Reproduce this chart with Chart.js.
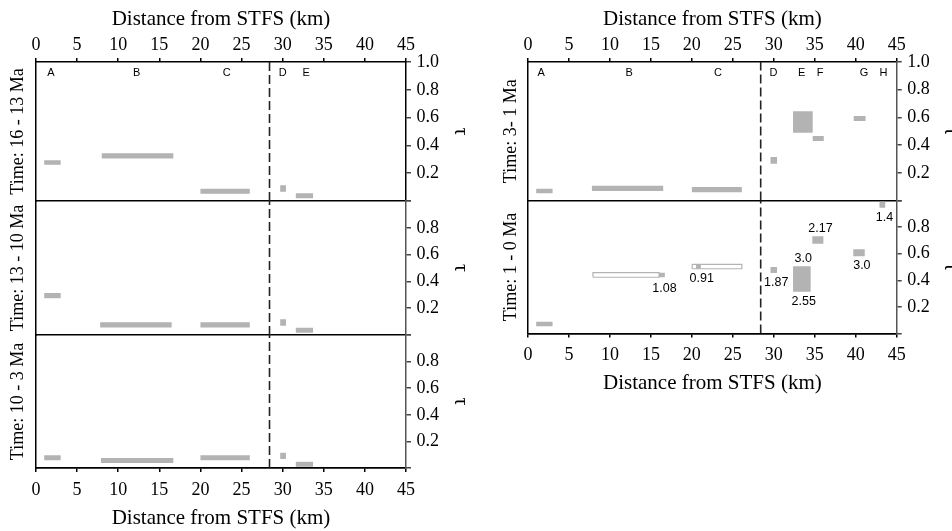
<!DOCTYPE html>
<html>
<head>
<meta charset="utf-8">
<script src="https://cdn.jsdelivr.net/npm/chart.js@4"></script>
<style>
  html, body { margin: 0; padding: 0; background: #fff; width: 952px; height: 531px; overflow: hidden; }
  canvas { position: absolute; top: 0; }
</style>
</head>
<body>
<canvas id="leftCol" width="480" height="531" style="left:0"></canvas>
<canvas id="rightCol" width="490" height="396" style="left:480px"></canvas>
<script>
// bars are [km from, km to, tau low, tau high]
const stfsKm = 28.4;

const bars16to13 = [[1, 3, 0.26, 0.293], [8, 16.7, 0.305, 0.343], [20, 26, 0.053, 0.088], [29.7, 30.4, 0.067, 0.113], [31.6, 33.7, 0.02, 0.055]];
const bars13to10 = [[1, 3, 0.275, 0.313], [7.8, 16.5, 0.056, 0.096], [20, 26, 0.056, 0.096], [29.7, 30.4, 0.069, 0.118], [31.6, 33.7, 0.016, 0.054]];
const bars10to3 = [[1, 3, 0.058, 0.095], [7.9, 16.7, 0.038, 0.075], [20, 26, 0.058, 0.095], [29.7, 30.4, 0.068, 0.115], [31.6, 33.7, 0.01, 0.047]];
const bars3to1 = [[1, 3, 0.052, 0.085], [7.8, 16.5, 0.069, 0.107], [20, 26.1, 0.059, 0.097], [29.6, 30.4, 0.266, 0.314], [32.35, 34.75, 0.49, 0.644], [34.75, 36.1, 0.43, 0.466], [39.75, 41.2, 0.574, 0.61]];
const bars1to0 = [[1, 3, 0.054, 0.089], [16.0, 16.7, 0.423, 0.457], [20.5, 21.1, 0.487, 0.52], [29.6, 30.4, 0.455, 0.5], [32.35, 34.5, 0.314, 0.505], [34.7, 36.05, 0.675, 0.731], [39.7, 41.1, 0.58, 0.633], [42.9, 43.6, 0.946, 0.99]];
const openBars1to0 = [[7.93, 16.0, 0.423, 0.457], [20.04, 26.1, 0.487, 0.52]];

const sitesLeft = ['A', 'B', 'C', 'D', 'E'];
const sitesLeftKm = [1.8, 12.25, 23.2, 30.0, 32.85];
const sitesRight = ['A', 'B', 'C', 'D', 'E', 'F', 'G', 'H'];
const sitesRightKm = [1.6, 12.35, 23.2, 29.95, 33.4, 35.65, 41.0, 43.4];

const rateText = ['1.08', '0.91', '1.87', '3.0', '2.55', '2.17', '3.0', '1.4'];
const rateKm = [16.65, 21.2, 30.3, 33.6, 33.65, 35.7, 40.75, 43.5];
const rateTau = [0.34, 0.415, 0.385, 0.56, 0.244, 0.786, 0.51, 0.871];

const GRAY = '#b3b3b3';
const SERIF = '"Liberation Serif", "Times New Roman", serif';
const SANS = '"Liberation Sans", Arial, sans-serif';

function rectPoints(b) {
  return [{x: b[0], y: b[2]}, {x: b[1], y: b[2]}, {x: b[1], y: b[3]}, {x: b[0], y: b[3]}, {x: b[0], y: b[2]}];
}

function xAxis(pos, size, pad) {
  return {
    type: 'linear', position: pos, min: 0, max: 45,
    ticks: {stepSize: 5, autoSkip: false, maxRotation: 0, color: '#000', padding: pad, font: {family: SERIF, size: 18}},
    grid: {drawOnChartArea: false, drawTicks: true, tickLength: 4, tickColor: '#000', lineWidth: 1.5},
    border: {display: true, color: '#000', width: 1.5},
    title: {display: true, text: 'Distance from STFS (km)', color: '#000', font: {family: SERIF, size: 21},
      padding: pos === 'top' ? {top: 7, bottom: 0} : {top: 0, bottom: 0}},
    afterFit: s => { s.height = size; }
  };
}

function buildColumn(canvasId, panels, dims, notes) {
  const scales = {
    xTop: xAxis('top', dims.top, 2),
    x: xAxis('bottom', dims.bottom, 7)
  };
  const datasets = [];
  panels.forEach((p, i) => {
    const id = 'y' + i;
    scales[id] = {
      type: 'linear', position: 'right', stack: 'right', stackWeight: p.weight, min: 0, max: 1,
      ticks: {
        stepSize: 0.2, autoSkip: false, color: '#000', padding: 5.5, font: {family: SERIF, size: 18},
        callback: v => (v < 0.01 || (v > 0.99 && i > 0)) ? '' : v.toFixed(1)
      },
      grid: {
        drawOnChartArea: true, drawTicks: true, tickLength: 5, tickColor: '#444', lineWidth: 1.5,
        color: c => (c.tick && c.tick.value === 0) ? '#000' : 'rgba(0,0,0,0)'
      },
      border: {display: true, color: i === 0 && canvasId === 'leftCol' ? '#000' : '#555', width: 1.5},
      title: {display: true, text: 'τ', color: '#000', font: {family: SERIF, size: 20}, padding: {top: 8, bottom: 0}},
      afterFit: s => { s.width = dims.right; }
    };
    // gray tips first so they sit above the open outlines
    p.bars.forEach(b => datasets.push({
      data: rectPoints(b), yAxisID: id, fill: 'shape', backgroundColor: GRAY, borderWidth: 0, pointRadius: 0
    }));
    (p.open || []).forEach(b => datasets.push({
      data: rectPoints(b), yAxisID: id, fill: 'shape', backgroundColor: '#fff', borderColor: GRAY, borderWidth: 1.2, pointRadius: 0
    }));
    datasets.push({
      data: [{x: stfsKm, y: 0}, {x: stfsKm, y: 1}], yAxisID: id, fill: false,
      borderColor: '#222', borderWidth: 1.6, borderDash: [9, 4], pointRadius: 0
    });
  });
  // left-hand stacks are laid out in reverse order, so add them last panel first
  panels.slice().reverse().forEach(p => {
    const i = panels.indexOf(p);
    scales['yL' + i] = {
      type: 'linear', position: 'left', stack: 'left', stackWeight: p.weight, min: 0, max: 1,
      ticks: {display: false},
      grid: {display: false},
      border: {display: true, color: '#000', width: 1.5},
      title: {display: true, text: p.title, color: '#000', font: {family: SERIF, size: 18}, padding: {top: dims.titlePad, bottom: 0}},
      afterFit: s => { s.width = dims.left; }
    };
  });

  const labels = {
    id: 'labels',
    afterDatasetsDraw(chart) {
      const ctx = chart.ctx;
      const x = chart.scales.x;
      const yTop = chart.scales.y0;
      ctx.save();
      ctx.fillStyle = '#000';
      ctx.textAlign = 'center';
      ctx.textBaseline = 'middle';
      ctx.font = '11px ' + SANS;
      dims.sites.forEach((s, i) => ctx.fillText(s, x.getPixelForValue(dims.sitesKm[i]), yTop.getPixelForValue(0.92)));
      if (notes) {
        const y = chart.scales[notes.axis];
        ctx.font = '12.5px ' + SANS;
        notes.text.forEach((t, i) => ctx.fillText(t, x.getPixelForValue(notes.km[i]), y.getPixelForValue(notes.tau[i])));
      }
      ctx.restore();
    }
  };

  new Chart(document.getElementById(canvasId), {
    type: 'line',
    data: {datasets: datasets},
    options: {
      responsive: false,
      animation: false,
      layout: {padding: 0},
      plugins: {legend: {display: false}, tooltip: {enabled: false}},
      scales: scales
    },
    plugins: [labels]
  });
}

buildColumn('leftCol', [
  {title: 'Time: 16 - 13 Ma', bars: bars16to13, weight: 139},
  {title: 'Time: 13 - 10 Ma', bars: bars13to10, weight: 134},
  {title: 'Time: 10 - 3 Ma', bars: bars10to3, weight: 133}
], {top: 62, bottom: 63, left: 36, right: 74, titlePad: 7.7, sites: sitesLeft, sitesKm: sitesLeftKm});

buildColumn('rightCol', [
  {title: 'Time: 3- 1 Ma', bars: bars3to1, weight: 138.5},
  {title: 'Time: 1 - 0 Ma', bars: bars1to0, open: openBars1to0, weight: 133}
], {top: 62, bottom: 62.5, left: 48, right: 73.3, titlePad: 20.7, sites: sitesRight, sitesKm: sitesRightKm},
{axis: 'y1', text: rateText, km: rateKm, tau: rateTau});
</script>
</body>
</html>
